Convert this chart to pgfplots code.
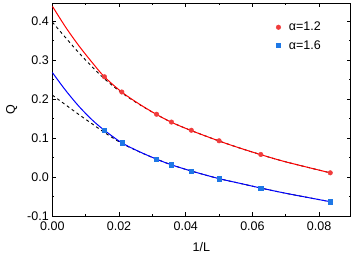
\documentclass[border=0pt]{standalone}
\usepackage{pgfplots}
\pgfplotsset{compat=1.18}
\usepackage{fontspec}
\setmainfont{Liberation Sans}
\definecolor{mred}{RGB}{240,60,60}
\definecolor{mblue}{RGB}{30,120,230}
\begin{document}
\begin{tikzpicture}
\begin{axis}[
  scale only axis,
  width=298pt, height=213pt,
  xmin=0, xmax=0.0894, ymin=-0.1, ymax=0.446,
  xtick={0,0.02,0.04,0.06,0.08},
  ytick={-0.1,0,0.1,0.2,0.3,0.4},
  minor x tick num=1, minor y tick num=1,
  tick align=inside,
  major tick length=4pt, minor tick length=2pt,
  axis line style={line width=1pt},
  every tick/.style={black, line width=0.7pt},
  scaled x ticks=false, scaled y ticks=false,
  tick label style={font=\fontsize{12.5}{14}\selectfont},
  xticklabel style={yshift=-2pt, /pgf/number format/.cd, fixed, fixed zerofill, precision=2, assume math mode=true},
  yticklabel style={/pgf/number format/.cd, fixed, fixed zerofill, precision=1, assume math mode=true},
  label style={font=\fontsize{12.5}{14}\selectfont},
  xlabel={1/L}, ylabel={Q},
  xlabel style={at={(axis description cs:0.5,0)}, anchor=center, yshift=-31pt},
  ylabel style={at={(axis description cs:0,0.5)}, anchor=center, yshift=40.5pt},
  legend style={draw=none, fill=none, at={(0.74,0.93)}, anchor=north west,
    font=\fontsize{12.5}{14}\selectfont, row sep=4pt},
  legend cell align=left,
]
% dashed fits
\addplot[black, dashed, line width=0.9pt, dash pattern=on 3pt off 3pt, smooth, forget plot] coordinates {
(0,0.397) (0.004,0.357) (0.008,0.318) (0.012,0.282) (0.0156,0.252) (0.0208,0.216) (0.026,0.1865)
(0.03125,0.1605) (0.0357,0.1405) (0.0417,0.119) (0.05,0.0925) (0.056,0.075) (0.0625,0.0575) (0.07,0.039) (0.0833,0.011)};
\addplot[black, dashed, line width=0.9pt, dash pattern=on 3pt off 3pt, smooth, forget plot] coordinates {
(0,0.210) (0.004,0.185) (0.008,0.160) (0.012,0.136) (0.0156,0.1145) (0.0208,0.0865) (0.026,0.065)
(0.03125,0.046) (0.0357,0.0315) (0.0417,0.0155) (0.05,-0.004) (0.056,-0.0155) (0.0625,-0.028) (0.07,-0.0415) (0.0833,-0.063)};
% solid fits
\addplot[red, line width=1pt, smooth, forget plot] coordinates {
(0,0.438) (0.004,0.384) (0.008,0.336) (0.012,0.293) (0.0156,0.257) (0.0208,0.218) (0.026,0.1875)
(0.03125,0.1605) (0.0357,0.1405) (0.0417,0.119) (0.05,0.0925) (0.056,0.075) (0.0625,0.0575) (0.07,0.039) (0.0833,0.011)};
\addplot[blue, line width=1pt, smooth, forget plot] coordinates {
(0,0.268) (0.004,0.222) (0.008,0.181) (0.012,0.146) (0.0156,0.120) (0.0208,0.088) (0.026,0.0655)
(0.03125,0.046) (0.0357,0.0315) (0.0417,0.0155) (0.05,-0.004) (0.056,-0.0155) (0.0625,-0.028) (0.07,-0.0415) (0.0833,-0.063)};
% data
\addplot[only marks, mark=*, mark size=2.3pt, color=mred, mark options={fill=mred, draw=mred}] coordinates {
(0.015625,0.257) (0.020833,0.218) (0.03125,0.161) (0.035714,0.141) (0.041667,0.120) (0.05,0.093) (0.0625,0.058) (0.083333,0.011)};
\addlegendentry{\hspace{6pt}α=1.2}
\addplot[only marks, mark=square*, mark size=2.1pt, color=mblue, mark options={fill=mblue, draw=mblue}] coordinates {
(0.015625,0.120) (0.020833,0.088) (0.03125,0.046) (0.035714,0.032) (0.041667,0.016) (0.05,-0.004) (0.0625,-0.028) (0.083333,-0.063)};
\addlegendentry{\hspace{6pt}α=1.6}
\end{axis}
\path ([xshift=-52.3pt,yshift=-41.7pt]current axis.south west) rectangle ([xshift=3.5pt,yshift=3pt]current axis.north east);
\end{tikzpicture}
\end{document}
